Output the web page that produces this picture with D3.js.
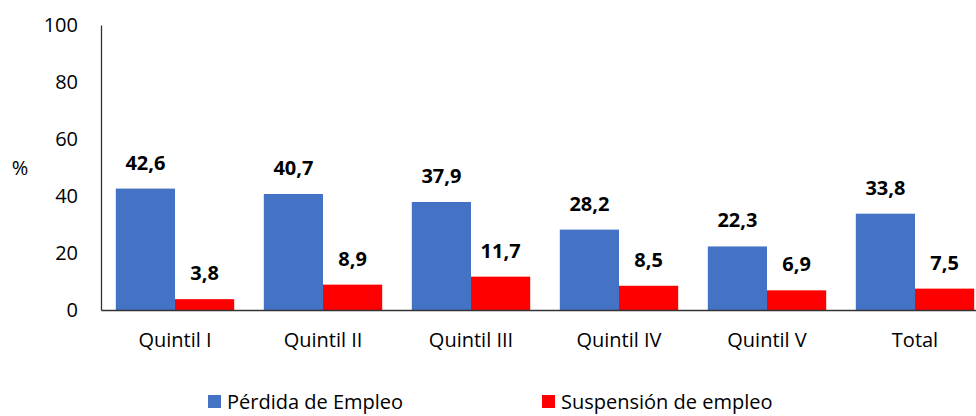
<!DOCTYPE html>
<html lang="es">
<head>
  <meta charset="UTF-8" />
  <script src="https://d3js.org/d3.v7.min.js"></script>
  <title>Pérdida y suspensión de empleo por quintil</title>
  <style>
    body { margin: 0; background: #fff; }
    text { font-family: "Open Sans", "Noto Sans", sans-serif; }
  </style>
</head>
<body>
<script type="text/javascript">
var categories = ["Quintil I", "Quintil II", "Quintil III", "Quintil IV", "Quintil V", "Total"];
var perdida = [42.6, 40.7, 37.9, 28.2, 22.3, 33.8];
var suspension = [3.8, 8.9, 11.7, 8.5, 6.9, 7.5];
var seriesNames = ["Pérdida de Empleo", "Suspensión de empleo"];
var colors = ["#4472C4", "#FF0000"];
var yTicks = [0, 20, 40, 60, 80, 100];

var width = 976, height = 416;
var mLeft = 101, mTop = 25, mBottom = 310, mRight = 989;

var svg = d3.select("body").append("svg").attr("width", width).attr("height", height);

var x = d3.scaleBand().domain(categories).range([mLeft, mRight]).paddingInner(0.2).paddingOuter(0.1);
var xs = d3.scaleBand().domain([0, 1]).range([0, x.bandwidth()]);
var y = d3.scaleLinear().domain([0, 100]).range([mBottom, mTop]);

var series = [perdida, suspension];

series.forEach(function(vals, s) {
  var g = svg.append("g");
  g.selectAll("rect").data(vals).enter().append("rect")
    .attr("x", function(d, i) { return x(categories[i]) + xs(s); })
    .attr("y", function(d) { return y(d); })
    .attr("width", xs.bandwidth())
    .attr("height", function(d) { return y(0) - y(d); })
    .attr("fill", colors[s]);
  g.selectAll("text").data(vals).enter().append("text")
    .attr("x", function(d, i) { return x(categories[i]) + xs(s) + xs.bandwidth() / 2; })
    .attr("y", function(d) { return y(d) - 19; })
    .attr("text-anchor", "middle")
    .attr("font-size", 20)
    .attr("font-weight", "bold")
    .attr("fill", "#000")
    .text(function(d) { return d.toFixed(1).replace(".", ","); });
});

// axes
var yAxis = svg.append("g").attr("transform", "translate(" + mLeft + ",0)")
  .call(d3.axisLeft(y).tickValues(yTicks).tickSize(0).tickPadding(23));
yAxis.select(".domain").attr("stroke", "#333").attr("stroke-width", 1.3);
yAxis.selectAll("text").attr("font-size", 20).attr("fill", "#000")
  .style("font-family", "'Open Sans', 'Noto Sans', sans-serif");

var xAxis = svg.append("g").attr("transform", "translate(0," + mBottom + ")")
  .call(d3.axisBottom(x).tickSize(0).tickPadding(23));
xAxis.select(".domain").attr("stroke", "#333").attr("stroke-width", 1.3);
xAxis.selectAll("text").attr("font-size", 20).attr("fill", "#000")
  .style("font-family", "'Open Sans', 'Noto Sans', sans-serif");

svg.append("text").attr("x", 20).attr("y", 175).attr("text-anchor", "middle")
  .attr("font-size", 20).text("%");

// legend
var legendX = [208, 542];
seriesNames.forEach(function(name, s) {
  svg.append("rect").attr("x", legendX[s]).attr("y", 395).attr("width", 13).attr("height", 13).attr("fill", colors[s]);
  svg.append("text").attr("x", legendX[s] + 19).attr("y", 409).attr("font-size", 20).attr("fill", "#000").text(name);
});
</script>
</body>
</html>
